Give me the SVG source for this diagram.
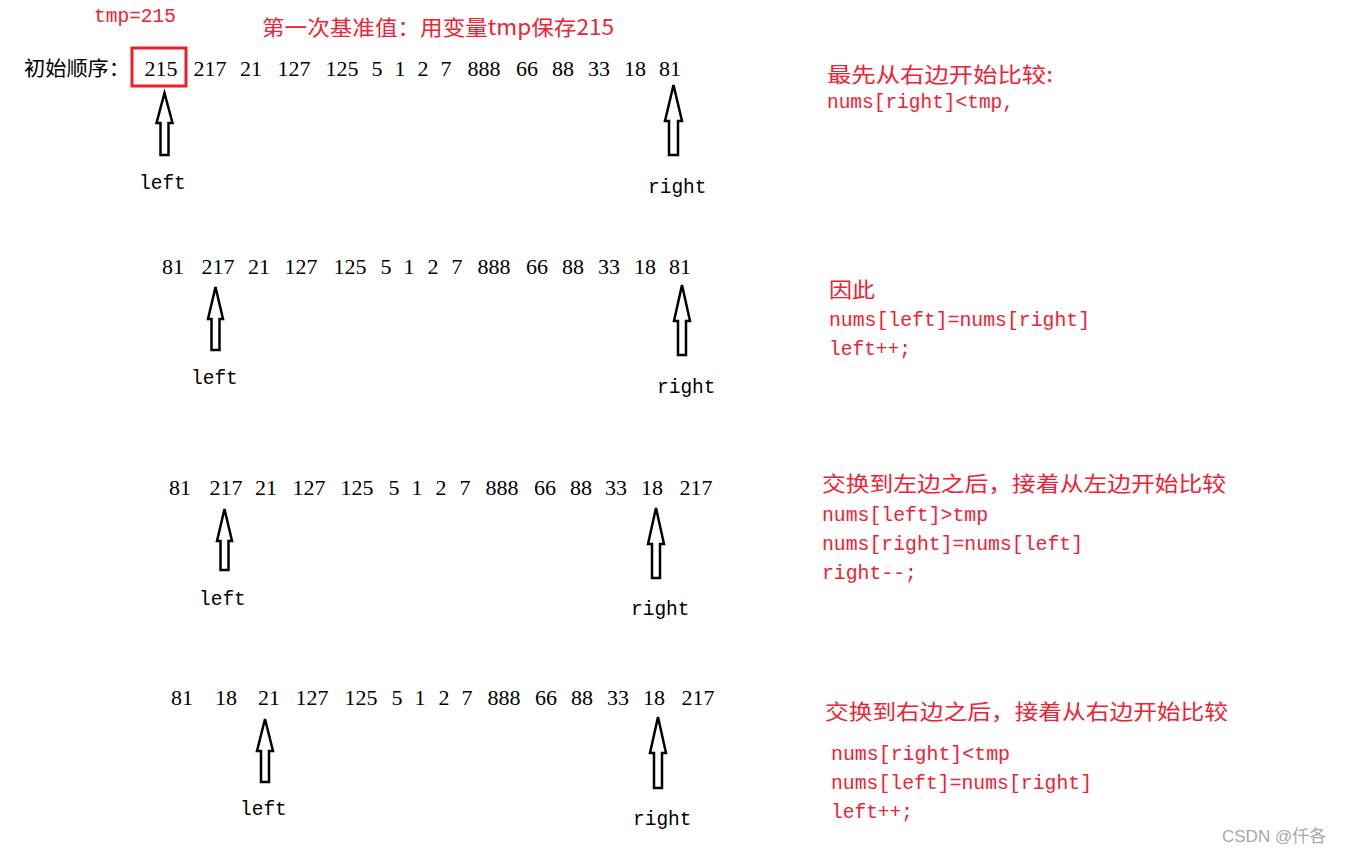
<svg xmlns="http://www.w3.org/2000/svg" width="1349" height="854" viewBox="0 0 1349 854">
<style>
.num{font-family:"Liberation Serif","Noto Sans CJK SC",serif;font-size:22px;fill:#000;text-anchor:middle}
.cjkb{font-family:"Noto Sans CJK SC",sans-serif;font-size:20px;fill:#000}
.lbl{font-family:"Liberation Mono",monospace;font-size:19.5px;fill:#000}
.code{font-family:"Liberation Mono",monospace;font-size:19.5px;fill:#ee2233}
.cjkr{font-family:"Noto Sans CJK SC",sans-serif;font-size:21px;fill:#ee2233}
.arrow{fill:#fff;stroke:#000;stroke-width:2.5;stroke-linejoin:miter}
.wm{font-family:"Liberation Sans","Noto Sans CJK SC",sans-serif;font-size:17px;fill:#a8a8a8}
</style>
<rect width="1349" height="854" fill="#fff"/>

<g id="row1">
  <text class="code" x="94" y="22" textLength="82" lengthAdjust="spacingAndGlyphs">tmp=215</text>
  <text x="262" y="35" class="cjkr" textLength="352" lengthAdjust="spacingAndGlyphs">第一次基准值：用变量tmp保存215</text>
  <text class="cjkb" x="24" y="76" textLength="106" lengthAdjust="spacingAndGlyphs">初始顺序：</text>
  <rect x="132" y="48" width="54" height="38" fill="none" stroke="#e8202a" stroke-width="3"/>
  <text class="num" y="76"><tspan x="161">215</tspan><tspan x="210">217</tspan><tspan x="251">21</tspan><tspan x="294">127</tspan><tspan x="342">125</tspan><tspan x="377">5</tspan><tspan x="400">1</tspan><tspan x="423">2</tspan><tspan x="446">7</tspan><tspan x="484">888</tspan><tspan x="527">66</tspan><tspan x="563">88</tspan><tspan x="599">33</tspan><tspan x="635">18</tspan><tspan x="670">81</tspan></text>
  <text class="lbl" x="139" y="189">left</text>
  <text class="lbl" x="648" y="193">right</text>
  <text class="cjkr" x="827" y="82" textLength="226" lengthAdjust="spacingAndGlyphs">最先从右边开始比较:</text>
  <text class="code" x="827" y="108" textLength="187" lengthAdjust="spacingAndGlyphs">nums[right]&lt;tmp,</text>
</g>

<g id="row2">
  <text class="num" y="274"><tspan x="173">81</tspan><tspan x="218">217</tspan><tspan x="259">21</tspan><tspan x="301">127</tspan><tspan x="350">125</tspan><tspan x="386">5</tspan><tspan x="409">1</tspan><tspan x="433">2</tspan><tspan x="457">7</tspan><tspan x="494">888</tspan><tspan x="537">66</tspan><tspan x="573">88</tspan><tspan x="609">33</tspan><tspan x="645">18</tspan><tspan x="680">81</tspan></text>
  <text class="lbl" x="191" y="384">left</text>
  <text class="lbl" x="657" y="393">right</text>
  <text class="cjkr" x="829" y="297" textLength="46" lengthAdjust="spacingAndGlyphs">因此</text>
  <text class="code" x="829" y="326" textLength="261" lengthAdjust="spacingAndGlyphs">nums[left]=nums[right]</text>
  <text class="code" x="829" y="355" textLength="82" lengthAdjust="spacingAndGlyphs">left++;</text>
</g>

<g id="row3">
  <text class="num" y="495"><tspan x="180">81</tspan><tspan x="226">217</tspan><tspan x="266">21</tspan><tspan x="309">127</tspan><tspan x="357">125</tspan><tspan x="394">5</tspan><tspan x="417">1</tspan><tspan x="441">2</tspan><tspan x="465">7</tspan><tspan x="502">888</tspan><tspan x="545">66</tspan><tspan x="581">88</tspan><tspan x="616">33</tspan><tspan x="652">18</tspan><tspan x="696">217</tspan></text>
  <text class="lbl" x="199" y="605">left</text>
  <text class="lbl" x="631" y="615">right</text>
  <text class="cjkr" x="822" y="491" textLength="404" lengthAdjust="spacingAndGlyphs">交换到左边之后，接着从左边开始比较</text>
  <text class="code" x="822" y="521" textLength="166" lengthAdjust="spacingAndGlyphs">nums[left]&gt;tmp</text>
  <text class="code" x="822" y="550" textLength="261" lengthAdjust="spacingAndGlyphs">nums[right]=nums[left]</text>
  <text class="code" x="822" y="579" textLength="95" lengthAdjust="spacingAndGlyphs">right--;</text>
</g>

<g id="row4">
  <text class="num" y="705"><tspan x="182">81</tspan><tspan x="226">18</tspan><tspan x="269">21</tspan><tspan x="312">127</tspan><tspan x="361">125</tspan><tspan x="397">5</tspan><tspan x="420">1</tspan><tspan x="444">2</tspan><tspan x="467">7</tspan><tspan x="504">888</tspan><tspan x="546">66</tspan><tspan x="582">88</tspan><tspan x="618">33</tspan><tspan x="654">18</tspan><tspan x="698">217</tspan></text>
  <text class="lbl" x="240" y="815">left</text>
  <text class="lbl" x="633" y="825">right</text>
  <text class="cjkr" x="825" y="719" textLength="403" lengthAdjust="spacingAndGlyphs">交换到右边之后，接着从右边开始比较</text>
  <text class="code" x="831" y="760" textLength="179" lengthAdjust="spacingAndGlyphs">nums[right]&lt;tmp</text>
  <text class="code" x="831" y="789" textLength="261" lengthAdjust="spacingAndGlyphs">nums[left]=nums[right]</text>
  <text class="code" x="831" y="818" textLength="82" lengthAdjust="spacingAndGlyphs">left++;</text>
</g>

<g id="pointers">
  <polygon class="arrow" points="164.5,93 172.5,123 168.5,123 168.5,155 160.5,155 160.5,123 156.5,123"/>
  <polygon class="arrow" points="673.5,85 682,121 678,121 678,155 669,155 669,121 665,121"/>
  <polygon class="arrow" points="215.5,287 223,319 219.5,319 219.5,350 211.5,350 211.5,319 208,319"/>
  <polygon class="arrow" points="682,285 690,321 686,321 686,355 678,355 678,321 674,321"/>
  <polygon class="arrow" points="224.5,509 232,541 228.5,541 228.5,570 220.5,570 220.5,541 217,541"/>
  <polygon class="arrow" points="656,508 664,544 660,544 660,578 652,578 652,544 648,544"/>
  <polygon class="arrow" points="265,719 273,751 269,751 269,782 261,782 261,751 257,751"/>
  <polygon class="arrow" points="658,717 666,753 662,753 662,788 654,788 654,753 650,753"/>
</g>

<text class="wm" x="1222" y="842">CSDN @仟各</text>
</svg>
